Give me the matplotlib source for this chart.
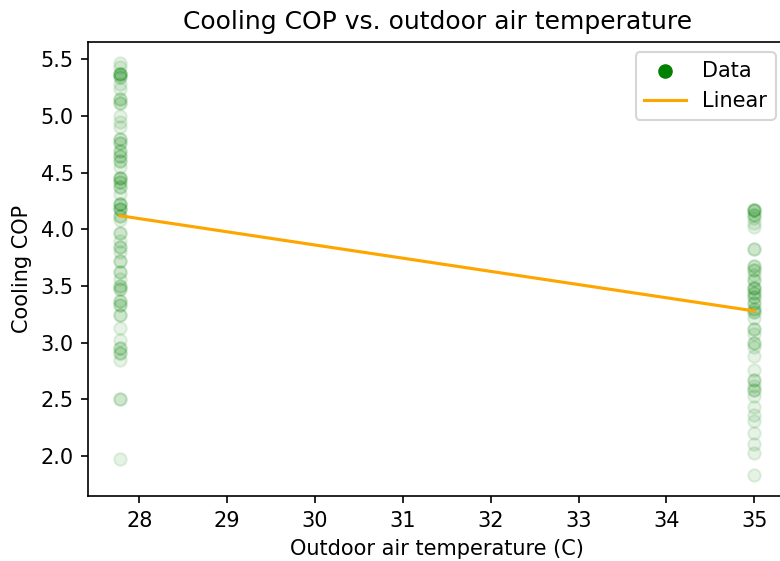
import numpy as np
import matplotlib
matplotlib.use("Agg")
import matplotlib.pyplot as plt

# outdoor temperatures (C) of the two test points: 82F and 95F
t_low = 27.78
t_high = 35.0

# COP readings, repeats where points stack on top of each other
cop_low = [5.47, 5.43, 5.37, 5.37, 5.37, 5.37, 5.34, 5.34, 5.28, 5.24,
           5.15, 5.15, 5.11, 5.11, 5.00, 4.95, 4.90, 4.80, 4.80, 4.76,
           4.76, 4.69, 4.69, 4.65, 4.65, 4.60, 4.60, 4.55, 4.45, 4.45,
           4.45, 4.42, 4.42, 4.37, 4.37, 4.31, 4.22, 4.22, 4.22, 4.18,
           4.18, 4.18, 4.12, 4.12, 4.08, 3.97, 3.97, 3.90, 3.84, 3.84,
           3.80, 3.72, 3.72, 3.62, 3.62, 3.56, 3.50, 3.50, 3.47, 3.47,
           3.37, 3.37, 3.33, 3.33, 3.24, 3.24, 3.13, 3.02, 2.95, 2.95,
           2.91, 2.91, 2.85, 2.50, 2.50, 1.97]
cop_high = [4.17, 4.17, 4.17, 4.17, 4.13, 4.13, 4.10, 4.06, 4.02, 3.83,
            3.83, 3.68, 3.68, 3.64, 3.64, 3.60, 3.55, 3.55, 3.48, 3.48,
            3.48, 3.44, 3.44, 3.40, 3.40, 3.35, 3.35, 3.30, 3.30, 3.27,
            3.27, 3.22, 3.12, 3.12, 3.08, 3.00, 3.00, 2.96, 2.88, 2.76,
            2.67, 2.67, 2.62, 2.58, 2.58, 2.53, 2.43, 2.36, 2.31, 2.20,
            2.11, 2.03, 1.83]

# linear fit, end points
fit_x = [t_low, t_high]
fit_y = [4.12, 3.28]

x = np.concatenate([np.full(len(cop_low), t_low), np.full(len(cop_high), t_high)])
y = np.concatenate([cop_low, cop_high])

fig = plt.figure(figsize=(5.2, 3.74), dpi=150)
# right spine sits just past the image edge in the reference
ax = fig.add_axes([88.3/780, 1 - 496/561, (786 - 88.3)/780, (496 - 42)/561])

ax.scatter(x, y, color="green", alpha=0.1, label="Data")
ax.plot(fit_x, fit_y, color="orange", label="Linear")

ax.set_title("Cooling COP vs. outdoor air temperature")
ax.set_xlabel("Outdoor air temperature (C)")
ax.set_ylabel("Cooling COP")

leg = ax.legend(loc="upper right")
for lh in leg.legend_handles:
    lh.set_alpha(1)

fig.savefig("out.png", dpi=150)
